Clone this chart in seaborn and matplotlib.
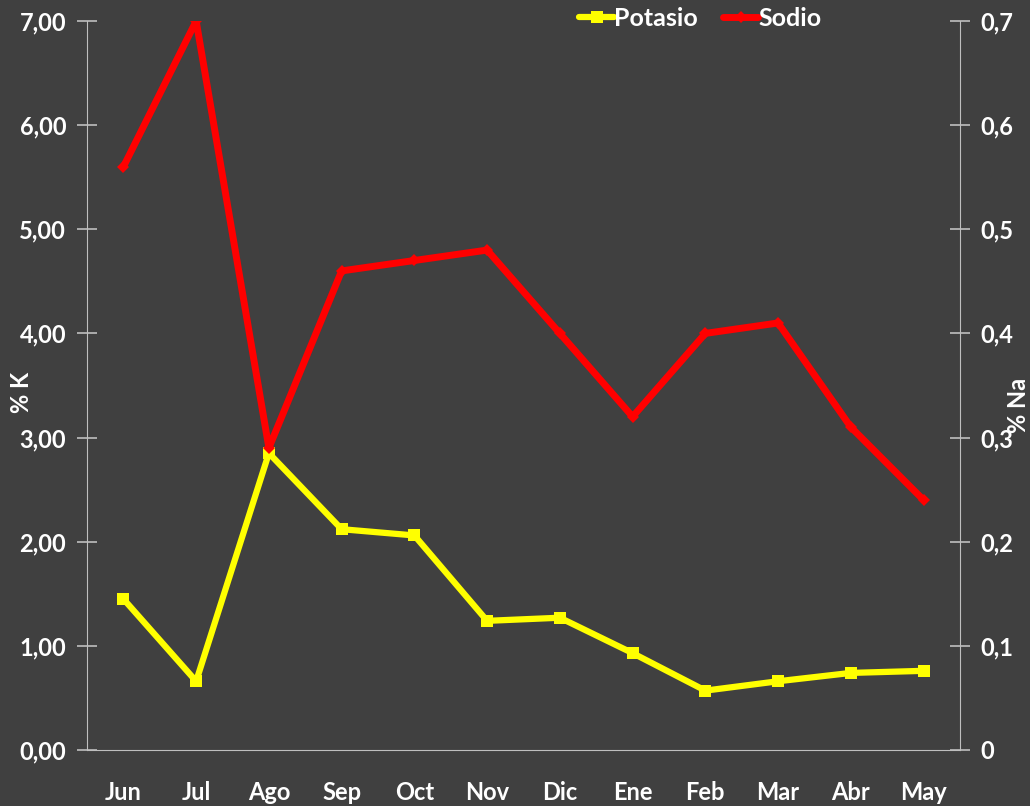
import numpy as np
import pandas as pd
import seaborn as sns
import matplotlib.pyplot as plt
from matplotlib.ticker import FuncFormatter, FixedLocator

meses = ['Jun', 'Jul', 'Ago', 'Sep', 'Oct', 'Nov', 'Dic', 'Ene', 'Feb', 'Mar', 'Abr', 'May']
potasio = [1.45, 0.66, 2.85, 2.12, 2.06, 1.24, 1.27, 0.93, 0.57, 0.66, 0.74, 0.76]
sodio = [0.56, 0.70, 0.29, 0.46, 0.47, 0.48, 0.40, 0.32, 0.40, 0.41, 0.31, 0.24]

fondo = '#404040'
gris = '#bfbfbf'

sns.set_style('dark')
plt.rcParams['font.family'] = ['Lato', 'DejaVu Sans']

datos = pd.DataFrame({'pos': np.arange(len(meses)), 'Potasio': potasio, 'Sodio': sodio})

fig = plt.figure(figsize=(10.3, 8.06), dpi=100, facecolor=fondo)
ax = fig.add_axes([0.0845, 0.0695, 0.8475, 0.9045])
ax.set_facecolor(fondo)
ax2 = ax.twinx()

sns.lineplot(data=datos, x='pos', y='Potasio', ax=ax, color='#ffff00', linewidth=4.5,
             marker='s', markersize=9, markeredgewidth=0, label='Potasio', legend=False, zorder=2)
sns.lineplot(data=datos, x='pos', y='Sodio', ax=ax2, color='#ff0000', linewidth=5,
             marker='D', markersize=6, markeredgewidth=0, label='Sodio', legend=False, zorder=3)

ax.set_xlim(-0.5, len(meses) - 0.5)
ax.set_ylim(0, 7)
ax2.set_ylim(0, 0.7)
ax.set_yticks(np.arange(0, 7.01, 1))
ax2.set_yticks(np.arange(0, 0.701, 0.1))
ax.yaxis.set_major_formatter(FuncFormatter(lambda v, p: f'{v:.2f}'.replace('.', ',')))
ax2.yaxis.set_major_formatter(FuncFormatter(lambda v, p: '0' if abs(v) < 1e-9 else f'{v:.1f}'.replace('.', ',')))

ax.xaxis.set_major_locator(FixedLocator(np.arange(-0.5, len(meses), 1)))
ax.xaxis.set_minor_locator(FixedLocator(np.arange(len(meses))))
ax.set_xticklabels([], minor=False)
ax.set_xticklabels(meses, minor=True)
ax.tick_params(axis='x', which='minor', length=0, pad=22)
ax.tick_params(axis='x', which='major', direction='inout', length=16, width=1.2, color=gris)

for a in (ax, ax2):
    a.set_xlabel('')
    a.grid(False)
    for s in a.spines.values():
        s.set_visible(False)
    a.tick_params(axis='y', direction='inout', length=14, width=1.2, color=gris)
    a.tick_params(labelcolor='white', which='both', labelsize=17)
    for t in a.get_xticklabels(which='both') + a.get_yticklabels():
        t.set_fontweight('bold')

ax.spines['left'].set_visible(True)
ax.spines['bottom'].set_visible(True)
ax.spines['left'].set_color(gris)
ax.spines['bottom'].set_color(gris)
ax2.spines['right'].set_visible(True)
ax2.spines['right'].set_color(gris)
ax.tick_params(axis='y', pad=8)
ax2.tick_params(axis='y', pad=8)

ax.set_ylabel('% K', color='white', fontsize=17, fontweight='bold')
ax.yaxis.set_label_coords(-0.062, 0.49)
ax2.set_ylabel('% Na', color='white', fontsize=17, fontweight='bold', rotation=90)
ax2.yaxis.set_label_coords(1.054, 0.473)

h1, l1 = ax.get_legend_handles_labels()
h2, l2 = ax2.get_legend_handles_labels()
fig.legend(h1 + h2, l1 + l2, loc='center', bbox_to_anchor=(0.68, 0.977), ncol=2, frameon=False,
           prop={'size': 18, 'weight': 'bold'}, labelcolor='white', handlelength=1.4,
           handletextpad=0.0, columnspacing=1.0)

fig.savefig('out.png', dpi=100, facecolor=fondo)
